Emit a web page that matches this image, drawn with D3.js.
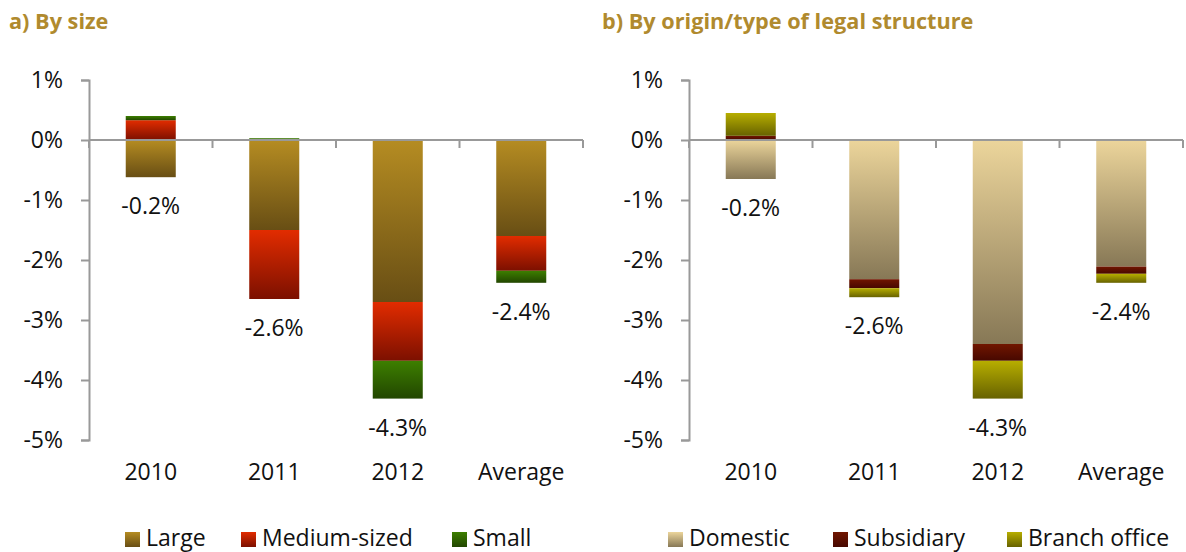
<!DOCTYPE html>
<html>
<head>
<meta charset="utf-8">
<script src="https://cdn.jsdelivr.net/npm/d3@7"></script>
<style>
  body { margin: 0; background: #fff; }
  svg text { font-family: "Open Sans", Lato, sans-serif; }
</style>
</head>
<body>
<div id="chart"></div>
<script>
// categories on the x axis
var years = ["2010", "2011", "2012", "Average"];

// a) by size (percentage points)
var large  = [-0.62, -1.50, -2.70, -1.60];
var medium = [ 0.33, -1.15, -0.98, -0.58];
var small  = [ 0.07,  0.03, -0.63, -0.20];
var totalsA = [-0.2, -2.6, -4.3, -2.4];

// b) by origin / type of legal structure
var domestic   = [-0.65, -2.32, -3.40, -2.11];
var subsidiary = [ 0.07, -0.15, -0.28, -0.12];
var branch     = [ 0.38, -0.15, -0.63, -0.15];
var totalsB = [-0.2, -2.6, -4.3, -2.4];

var yTicks = [1, 0, -1, -2, -3, -4, -5];

// colours: top and bottom of each gradient
var colours = {
  "Large":         ["#b58c22", "#684e14"],
  "Medium-sized":  ["#e22c00", "#7c1000"],
  "Small":         ["#3d7f00", "#224600"],
  "Domestic":      ["#ecd59b", "#877856"],
  "Subsidiary":    ["#711600", "#470800"],
  "Branch office": ["#b7ae00", "#676200"]
};

var W = 1186, H = 552;
var svg = d3.select("#chart").append("svg")
    .attr("width", W)
    .attr("height", H);

// gradients for every series
var defs = svg.append("defs");
Object.keys(colours).forEach(function(k, i) {
  var g = defs.append("linearGradient")
      .attr("id", "grad" + i)
      .attr("x1", 0).attr("y1", 0).attr("x2", 0).attr("y2", 1);
  g.append("stop").attr("offset", "0%").attr("stop-color", colours[k][0]);
  g.append("stop").attr("offset", "100%").attr("stop-color", colours[k][1]);
  colours[k].id = "grad" + i;
});

function drawPanel(offsetX, title, titleX, names, series, totals, legendX) {
  var g = svg.append("g").attr("transform", "translate(" + offsetX + ",0)");

  // title
  g.append("text")
      .attr("x", titleX)
      .attr("y", 29)
      .attr("fill", "#b08a2e")
      .style("font-weight", "bold")
      .style("font-size", "21.7px")
      .text(title);

  var x = d3.scaleBand()
      .domain(years)
      .range([89, 583])
      .paddingInner(0.595)
      .paddingOuter(0.2975);

  var y = d3.scaleLinear()
      .domain([-5, 1])
      .range([440, 80]);

  // build table for the stack
  var table = years.map(function(yr, i) {
    var row = {year: yr};
    names.forEach(function(n, j) { row[n] = series[j][i]; });
    return row;
  });

  var stack = d3.stack()
      .keys(names)
      .offset(d3.stackOffsetDiverging);
  var layers = stack(table);

  // bars
  g.selectAll(".layer")
    .data(layers)
    .enter().append("g")
      .attr("class", "layer")
      .attr("fill", function(d) { return "url(#" + colours[d.key].id + ")"; })
    .selectAll("rect")
    .data(function(d) { return d; })
    .enter().append("rect")
      .attr("x", function(d) { return x(d.data.year); })
      .attr("width", x.bandwidth())
      .attr("y", function(d) { return y(Math.max(d[0], d[1])); })
      .attr("height", function(d) { return Math.abs(y(d[0]) - y(d[1])); });

  // y axis
  var yAxis = d3.axisLeft(y)
      .tickValues(yTicks)
      .tickFormat(function(d) { return d + "%"; })
      .tickSize(8)
      .tickPadding(18);

  var ya = g.append("g")
      .attr("transform", "translate(89,0)")
      .call(yAxis);
  ya.selectAll("path, line").attr("stroke", "#999").attr("stroke-width", 2);
  ya.selectAll("text")
      .attr("fill", "#111")
      .style("font-size", "23px")
      .style("font-family", "'Open Sans', Lato, sans-serif");

  // x axis at zero
  var step = x.step();
  var bounds = d3.range(years.length + 1).map(function(i) { return 89 + i * step; });
  g.append("line")
      .attr("x1", 89).attr("x2", 583)
      .attr("y1", y(0)).attr("y2", y(0))
      .attr("stroke", "#999").attr("stroke-width", 2);
  g.selectAll(".xtick")
    .data(bounds)
    .enter().append("line")
      .attr("class", "xtick")
      .attr("x1", function(d) { return d; })
      .attr("x2", function(d) { return d; })
      .attr("y1", y(0))
      .attr("y2", y(0) + 8)
      .attr("stroke", "#999").attr("stroke-width", 2);

  // category labels
  g.selectAll(".cat")
    .data(years)
    .enter().append("text")
      .attr("class", "cat")
      .attr("x", function(d) { return x(d) + x.bandwidth() / 2; })
      .attr("y", 480)
      .attr("text-anchor", "middle")
      .attr("fill", "#111")
      .style("font-size", "23px")
      .text(function(d) { return d; });

  // total labels below each bar
  g.selectAll(".total")
    .data(table)
    .enter().append("text")
      .attr("class", "total")
      .attr("x", function(d) { return x(d.year) + x.bandwidth() / 2; })
      .attr("y", function(d, i) {
        var low = d3.min(layers, function(l) { return l[i][0]; });
        return y(low) + 37;
      })
      .attr("text-anchor", "middle")
      .attr("fill", "#111")
      .style("font-size", "23px")
      .text(function(d, i) { return totals[i].toFixed(1) + "%"; });

  // legend
  var leg = g.selectAll(".leg")
    .data(names)
    .enter().append("g")
      .attr("class", "leg")
      .attr("transform", function(d, i) { return "translate(" + legendX[i] + ",0)"; });
  leg.append("rect")
      .attr("y", 532)
      .attr("width", 15)
      .attr("height", 15)
      .attr("fill", function(d) { return "url(#" + colours[d].id + ")"; });
  leg.append("text")
      .attr("x", 21)
      .attr("y", 546)
      .attr("fill", "#111")
      .style("font-size", "23px")
      .text(function(d) { return d; });
}

drawPanel(0, "a) By size", 9,
  ["Large", "Medium-sized", "Small"],
  [large, medium, small], totalsA, [125, 241, 452]);

drawPanel(600, "b) By origin/type of legal structure", 2,
  ["Domestic", "Subsidiary", "Branch office"],
  [domestic, subsidiary, branch], totalsB, [668, 833, 1007].map(function(v) { return v - 600; }));
</script>
</body>
</html>
